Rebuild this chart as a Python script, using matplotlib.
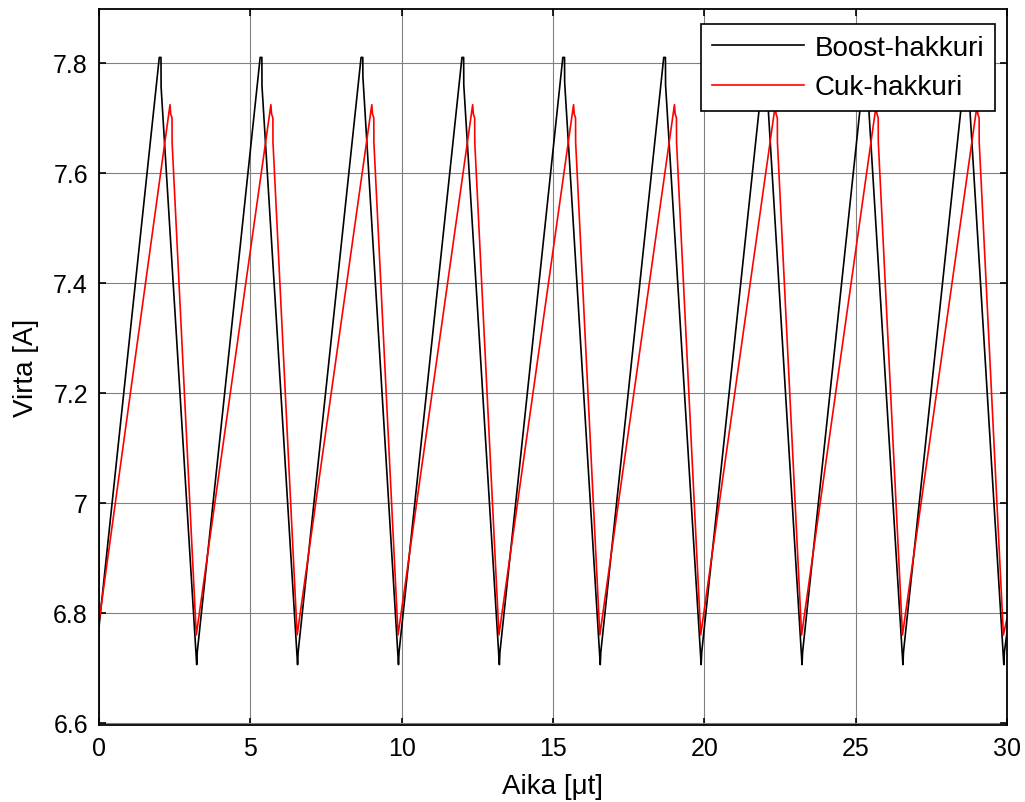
import matplotlib
matplotlib.use("Agg")
import matplotlib.pyplot as plt

plt.rcParams['font.family'] = ['Liberation Sans', 'DejaVu Sans']

# Boost-hakkuri (black) vertices
boost_t = [0.0,
           1.992, 2.048, 2.052, 3.228, 3.247,
           5.325, 5.381, 5.385, 6.561, 6.580,
           8.659, 8.715, 8.719, 9.895, 9.914,
           11.992, 12.048, 12.052, 13.228, 13.247,
           15.325, 15.381, 15.385, 16.561, 16.580,
           18.659, 18.715, 18.719, 19.895, 19.914,
           21.992, 22.048, 22.052, 23.228, 23.247,
           25.325, 25.381, 25.385, 26.561, 26.580,
           28.659, 28.715, 28.719, 29.895, 29.914,
           30.0]
boost_i = [6.775,
           7.81, 7.81, 7.756, 6.706, 6.729,
           7.81, 7.81, 7.758, 6.706, 6.729,
           7.81, 7.81, 7.775, 6.706, 6.729,
           7.81, 7.81, 7.760, 6.706, 6.729,
           7.81, 7.81, 7.765, 6.706, 6.729,
           7.81, 7.81, 7.760, 6.706, 6.729,
           7.81, 7.81, 7.770, 6.706, 6.729,
           7.81, 7.81, 7.760, 6.706, 6.729,
           7.81, 7.81, 7.765, 6.706, 6.729,
           6.765]

# Cuk-hakkuri (red) vertices
cuk_t = [0.0,
         2.346, 2.369, 2.412, 2.415, 3.214,
         5.679, 5.702, 5.745, 5.748, 6.547,
         9.013, 9.036, 9.079, 9.082, 9.881,
         12.346, 12.369, 12.412, 12.415, 13.214,
         15.679, 15.702, 15.745, 15.748, 16.547,
         19.013, 19.036, 19.079, 19.082, 19.881,
         22.346, 22.369, 22.412, 22.415, 23.214,
         25.679, 25.702, 25.745, 25.748, 26.547,
         29.013, 29.036, 29.079, 29.082, 29.881,
         30.0]
cuk_i = [6.784,
         7.724, 7.707, 7.700, 7.656, 6.760,
         7.724, 7.707, 7.700, 7.656, 6.760,
         7.724, 7.707, 7.700, 7.656, 6.760,
         7.724, 7.707, 7.700, 7.656, 6.760,
         7.724, 7.707, 7.700, 7.656, 6.760,
         7.724, 7.707, 7.700, 7.656, 6.760,
         7.724, 7.707, 7.700, 7.656, 6.760,
         7.724, 7.707, 7.700, 7.656, 6.760,
         7.724, 7.707, 7.700, 7.656, 6.760,
         6.790]

x_ticks = [0, 5, 10, 15, 20, 25, 30]
y_ticks = [6.6, 6.8, 7.0, 7.2, 7.4, 7.6, 7.8]
y_tick_labels = ['6.6', '6.8', '7', '7.2', '7.4', '7.6', '7.8']

fig = plt.figure(figsize=(10.25, 8.03), dpi=100)
ax = fig.add_axes([99/1025, 77/803, 908/1025, 716/803])

ax.plot(boost_t, boost_i, color='black', lw=1.2, label='Boost-hakkuri')
ax.plot(cuk_t, cuk_i, color='red', lw=1.2, label='Cuk-hakkuri')

ax.set_xlim(0, 30)
ax.set_ylim(6.5963, 7.898)
ax.set_xticks(x_ticks)
ax.set_xticklabels([str(v) for v in x_ticks])
ax.set_yticks(y_ticks)
ax.set_yticklabels(y_tick_labels)

ax.grid(True, color='#808080', lw=0.8, ls='-')
ax.set_axisbelow(True)
ax.tick_params(direction='in', top=True, right=True, length=5, width=1.2,
               labelsize=18, pad=8, colors='black')
for s in ax.spines.values():
    s.set_linewidth(1.3)
    s.set_color('black')

ax.set_xlabel('Aika [μt]', fontsize=20, labelpad=9)
ax.set_ylabel('Virta [A]', fontsize=20, labelpad=10)

leg = ax.legend(loc='upper right', bbox_to_anchor=((995-99)/908, (726-25)/716),
                fontsize=20, frameon=True, fancybox=False, edgecolor='black',
                framealpha=1, borderpad=0.38, handlelength=3.3, handletextpad=0.4,
                labelspacing=0.5, borderaxespad=0)
leg.get_frame().set_linewidth(1.2)

fig.savefig('out.png', dpi=100)
